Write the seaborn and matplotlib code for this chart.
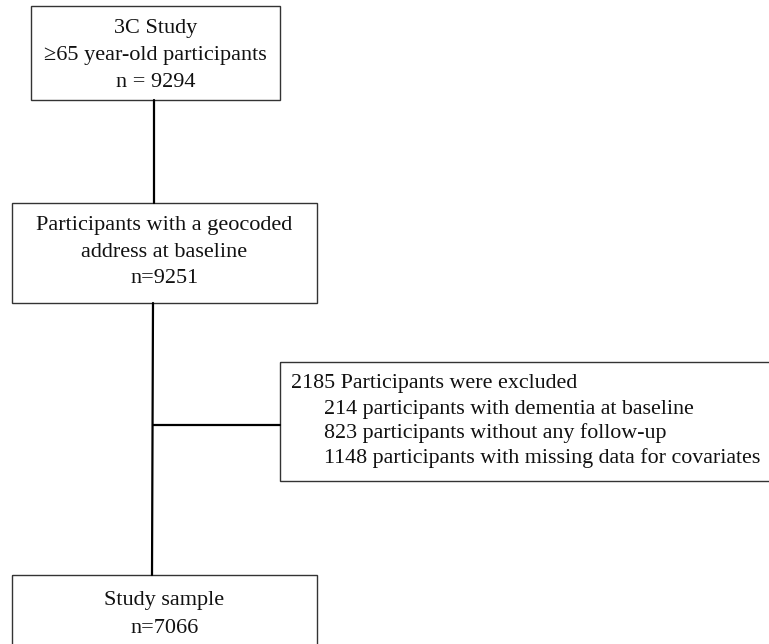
import matplotlib
matplotlib.use("Agg")
import matplotlib.pyplot as plt
from matplotlib.patches import Rectangle
import seaborn as sns
import pandas as pd

sns.set_theme(style="white")
plt.rcParams['font.family'] = ['Liberation Serif', 'DejaVu Serif']

box1_lines = ["3C Study", "\u226565 year-old participants", "n = 9294"]
box2_lines = ["Participants with a geocoded", "address at baseline", "n=9251"]
excl_lines = ["2185 Participants were excluded",
              "214 participants with dementia at baseline",
              "823 participants without any follow-up",
              "1148 participants with missing data for covariates"]
box4_lines = ["Study sample", "n=7066"]

W, H = 769, 644
fig = plt.figure(figsize=(W / 100, H / 100), dpi=100)
ax = fig.add_axes([0, 0, 1, 1])
ax.set_xlim(0, W)
ax.set_ylim(H, 0)
ax.axis("off")

FS = 16
FS2 = 15.8

def box(x0, y0, x1, y1):
    ax.add_patch(Rectangle((x0, y0), x1 - x0, y1 - y0, fill=False,
                           edgecolor="#333333", lw=1.0))

# connectors
for seg in [(154, 100, 154, 203), (153, 303, 152, 575), (153, 425, 280, 425)]:
    d = pd.DataFrame({"x": [seg[0], seg[2]], "y": [seg[1], seg[3]]})
    sns.lineplot(data=d, x="x", y="y", ax=ax, color="black", lw=1.6,
                 estimator=None, sort=False, legend=False)
ax.set_xlabel("")
ax.set_ylabel("")

box(31, 6, 280, 100)
box(12, 203, 317, 303)
box(280, 362, 775, 481)
box(12, 575, 317, 660)

for t, yb in zip(box1_lines, [33, 60, 87]):
    ax.text(155.5, yb, t, ha="center", va="baseline", fontsize=FS, color="#111111")
for t, yb in zip(box2_lines, [230, 257, 283]):
    ax.text(164.5, yb, t, ha="center", va="baseline", fontsize=FS, color="#111111")
for t, yb in zip(box4_lines, [605, 633]):
    ax.text(164.5, yb, t, ha="center", va="baseline", fontsize=FS, color="#111111")
for i, (t, yb) in enumerate(zip(excl_lines, [388, 414, 438, 463])):
    ax.text(291 if i == 0 else 324, yb, t, ha="left", va="baseline",
            fontsize=FS2, color="#111111")

fig.savefig("out.png", dpi=100)
